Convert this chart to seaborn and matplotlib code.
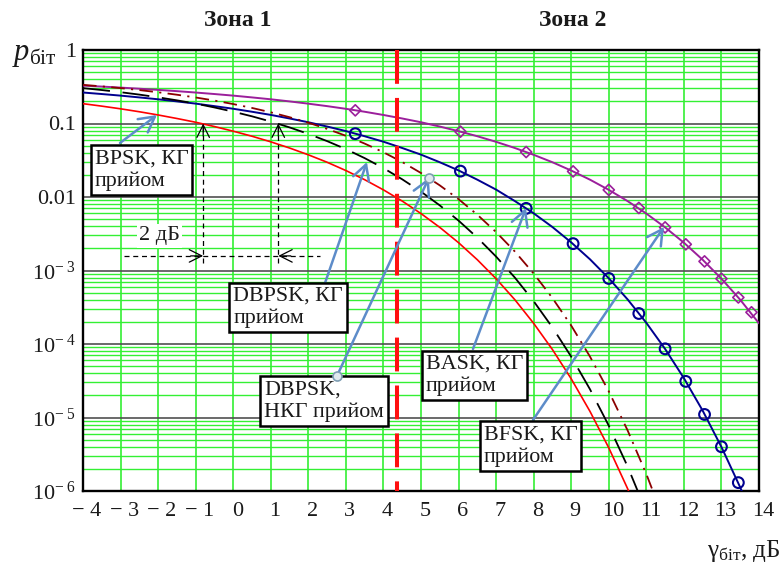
import numpy as np
import pandas as pd
import matplotlib
matplotlib.use("Agg")
import matplotlib.pyplot as plt
import matplotlib.transforms as mtransforms
from matplotlib.ticker import FixedLocator, LogLocator, NullFormatter
import seaborn as sns

# ---------------- data ----------------
# Eb/N0 grid in dB (0.5 dB step)
snr_db = [-4, -3.5, -3, -2.5, -2, -1.5, -1, -0.5, 0, 0.5, 1, 1.5, 2, 2.5, 3, 3.5,
          4, 4.5, 5, 5.5, 6, 6.5, 7, 7.5, 8, 8.5, 9, 9.5, 10, 10.5, 11, 11.5,
          12, 12.5, 13, 13.5, 14]

# BPSK, coherent reception
ber_bpsk = [0.1861, 0.1723, 0.1584, 0.1445, 0.1306, 0.1170, 0.1040, 0.0909,
            0.0786, 0.0671, 0.0563, 0.0464, 0.0375, 0.0297, 0.0229, 0.0172,
            0.0125, 0.0088, 0.00595, 0.00386, 0.00239, 0.0014, 7.73e-4, 4.0e-4,
            1.91e-4, 8.4e-5, 3.36e-5, 1.21e-5, 3.87e-6, 1.08e-6, 2.6e-7]

# DBPSK, coherent reception
ber_dbpsk_coh = [0.3029, 0.2852, 0.2666, 0.2472, 0.2271, 0.2066, 0.1864, 0.1653,
                 0.1448, 0.1252, 0.1063, 0.0885, 0.0722, 0.0576, 0.0448, 0.0338,
                 0.0247, 0.0174, 0.01183, 0.00769, 0.00477, 0.0028, 0.001545,
                 8.0e-4, 3.82e-4, 1.68e-4, 6.72e-5, 2.42e-5, 7.74e-6, 2.16e-6,
                 5.2e-7]

# DBPSK, non-coherent reception
ber_dbpsk_nc = [0.3358, 0.3199, 0.3029, 0.2850, 0.2660, 0.2464, 0.2260, 0.2051,
                0.1839, 0.1628, 0.1420, 0.1218, 0.1025, 0.0845, 0.0680, 0.0533,
                0.0406, 0.0299, 0.0212, 0.0144, 0.00934, 0.00574, 0.00333,
                0.00181, 9.09e-4, 4.21e-4, 1.78e-4, 6.73e-5, 2.27e-5, 6.7e-6,
                1.70e-6, 3.7e-7]

# BASK, coherent reception
ber_bask = [0.2640, 0.2517, 0.2395, 0.2264, 0.2135, 0.1998, 0.1864, 0.1723,
            0.1587, 0.1445, 0.1309, 0.1170, 0.1040, 0.0909, 0.0789, 0.0671,
            0.0565, 0.0464, 0.0377, 0.0297, 0.0230, 0.0172, 0.0126, 0.0088,
            0.0060, 0.0039, 0.00241, 0.00142, 7.83e-4, 4.05e-4, 1.94e-4,
            8.56e-5, 3.43e-5, 1.24e-5, 3.97e-6, 1.12e-6, 2.7e-7]

# BFSK, coherent reception
ber_bfsk = [0.3274, 0.3179, 0.3079, 0.2975, 0.2867, 0.2755, 0.2638, 0.2517,
            0.2395, 0.2264, 0.2135, 0.1998, 0.1861, 0.1723, 0.1584, 0.1445,
            0.1306, 0.1170, 0.1040, 0.0909, 0.0786, 0.0671, 0.0563, 0.0464,
            0.0375, 0.0297, 0.0229, 0.0172, 0.0125, 0.0088, 0.00595, 0.00386,
            0.00239, 0.0014, 7.73e-4, 4.0e-4, 1.91e-4]

# marker positions on the BASK / BFSK curves
mark_bask_db = [3.25, 6.05, 7.8, 9.05, 10.0, 10.8, 11.5, 12.05, 12.55, 13.0, 13.45]
mark_bask_ber = [0.0727, 0.0225, 0.0070, 0.00232, 7.8e-4, 2.6e-4, 8.6e-5,
                 3.1e-5, 1.1e-5, 4.0e-6, 1.3e-6]
mark_bfsk_db = [3.25, 6.05, 7.8, 9.05, 10.0, 10.8, 11.5, 12.05, 12.55, 13.0,
                13.45, 13.8]
mark_bfsk_ber = [0.151, 0.0775, 0.0409, 0.0223, 0.0125, 0.0071, 0.00386,
                 0.00227, 0.00133, 7.73e-4, 4.3e-4, 2.7e-4]

x_ticks = list(range(-4, 15))
x_tick_labels = ["− 4", "− 3", "− 2", "− 1", "0", "1", "2", "3", "4", "5", "6",
                 "7", "8", "9", "10", "11", "12", "13", "14"]
y_ticks = [1e-6, 1e-5, 1e-4, 1e-3, 1e-2, 1e-1, 1]
y_tick_labels = [r"$10^{-\ 6}$", r"$10^{-\ 5}$", r"$10^{-\ 4}$", r"$10^{-\ 3}$",
                 "0.01", "0.1", "1"]

zone_border_db = 4.35

# ---------------- style ----------------
sns.set_theme(style="white")
plt.rcParams["font.family"] = ["Liberation Serif", "DejaVu Serif"]
plt.rcParams["mathtext.fontset"] = "custom"
plt.rcParams["mathtext.rm"] = "Liberation Serif"
plt.rcParams["mathtext.it"] = "Liberation Serif:italic"
plt.rcParams["mathtext.bf"] = "Liberation Serif:bold"

W, H = 782, 568
fig = plt.figure(figsize=(W / 100, H / 100), dpi=100)
ax = fig.add_axes([83 / W, 1 - 491 / H, (759 - 83) / W, (491 - 50) / H])
ax.set_yscale("log")
ax.set_xlim(-4, 14)
ax.set_ylim(1e-6, 1)

# grid
ax.set_axisbelow(True)
ax.xaxis.set_major_locator(FixedLocator(x_ticks))
ax.yaxis.set_major_locator(FixedLocator(y_ticks))
ax.yaxis.set_minor_locator(LogLocator(base=10, subs=np.arange(2, 10)))
ax.yaxis.set_minor_formatter(NullFormatter())
ax.grid(True, which="major", axis="x", color="#22ee22", lw=1.1)
ax.grid(True, which="minor", axis="y", color="#33f033", lw=1.0)
ax.grid(True, which="major", axis="y", color="#505050", lw=1.2)
ax.set_xticklabels(x_tick_labels)
ax.set_yticklabels(y_tick_labels)
ax.tick_params(axis="both", which="both", length=0, labelsize=16,
               labelcolor="#1a1a1a")
ax.tick_params(axis="x", pad=8)
ax.tick_params(axis="y", pad=5)
shift = mtransforms.ScaledTranslation(4 / 100, 0, fig.dpi_scale_trans)
for lbl in ax.get_xticklabels():
    lbl.set_transform(lbl.get_transform() + shift)
for sp in ax.spines.values():
    sp.set_visible(True)
    sp.set_color("black")
    sp.set_linewidth(1.7)

# ---------------- curves ----------------
def draw(xs, ys, color, lw, dashes=None):
    df = pd.DataFrame({"snr": xs[:len(ys)], "ber": ys})
    sns.lineplot(data=df, x="snr", y="ber", ax=ax, color=color, lw=lw,
                 estimator=None, sort=False, zorder=3)
    line = ax.lines[-1]
    if dashes is not None:
        line.set_dashes(dashes)
    return line

draw(snr_db, ber_bfsk, "#9b1f9b", 1.4)
draw(snr_db, ber_bask, "#00008f", 1.4)
draw(snr_db, ber_dbpsk_nc, "#8b0000", 1.3, dashes=(7.5, 3.5, 1.2, 3.5))
draw(snr_db, ber_dbpsk_coh, "black", 1.3, dashes=(15, 7))
draw(snr_db, ber_bpsk, "#ff0000", 1.2)

sns.scatterplot(x=mark_bask_db, y=mark_bask_ber, ax=ax, marker="o", s=60,
                facecolor="none", edgecolor="#00008f", linewidth=1.5, zorder=4)
sns.scatterplot(x=mark_bfsk_db, y=mark_bfsk_ber, ax=ax, marker="D", s=32,
                facecolor="none", edgecolor="#9b1f9b", linewidth=1.2, zorder=4)
ax.set_xlabel("")
ax.set_ylabel("")

# zone border
ax.plot([zone_border_db, zone_border_db], [1, 1e-6], color="#ff1010", lw=2.9,
        dashes=(8.4, 3.5), zorder=5)

# ---------------- "2 дБ" dimension ----------------
dim_kw = dict(color="black", lw=0.9, dashes=(4, 3), zorder=5)
ax.plot([-0.8, -0.8], [1.26e-3, 0.1], **dim_kw)
ax.plot([1.2, 1.2], [1.26e-3, 0.1], **dim_kw)
ax.plot([-2.9, 2.3], [1.58e-3, 1.58e-3], **dim_kw)
head_kw = dict(arrowstyle="->,head_length=0.9,head_width=0.45", color="black",
               lw=0.9, shrinkA=0, shrinkB=0, mutation_scale=10)
for xy, off in [((-0.8, 0.1), (0, -9)), ((1.2, 0.1), (0, -9)),
                ((-0.8, 1.58e-3), (-9, 0)), ((1.2, 1.58e-3), (9, 0))]:
    ax.annotate("", xy=xy, xytext=off, textcoords="offset points",
                arrowprops=head_kw, zorder=5)
ax.text(-1.97, 2.95e-3, "2 дБ", ha="center", va="center", fontsize=16,
        color="#1a1a1a", zorder=6,
        bbox=dict(boxstyle="square,pad=0.1", fc="white", ec="none"))

# ---------------- callouts ----------------
arrow_col = "#5d8cc9"
arr_kw = dict(arrowstyle="->,head_length=0.55,head_width=0.3", color=arrow_col,
              lw=1.8, shrinkA=0, shrinkB=0, mutation_scale=20)
box_kw = dict(boxstyle="square,pad=0.18", fc="white", ec="black", lw=1.8)

callouts = [
    ("BPSK, КГ\nприйом", (-2.44, 0.0233), (-3.015, 0.0543), (-2.03, 0.1305)),
    ("DBPSK, КГ\nприйом", (1.46, 3.14e-4), (2.444, 6.76e-4), (3.56, 0.0299)),
    ("DBPSK,\nНКГ прийом", (2.42, 1.68e-5), (2.763, 3.67e-5), (5.21, 0.0182)),
    ("BASK, КГ\nприйом", (6.42, 3.73e-5), (6.384, 8.55e-5), (7.795, 0.00708)),
    ("BFSK, КГ\nприйом", (7.92, 4.09e-6), (7.982, 9.25e-6), (11.47, 0.00391)),
]
for text, pos, tail, head in callouts:
    ax.annotate("", xy=head, xytext=tail, arrowprops=arr_kw, zorder=6)
    ax.text(pos[0], pos[1], text, ha="center", va="center", multialignment="left",
            fontsize=15.8, linespacing=1.22, color="#1a1a1a", zorder=7,
            bbox=box_kw)

# small circles on the non-coherent DBPSK leader
ax.plot([2.763, 5.21], [3.67e-5, 0.0182], ls="none", marker="o", ms=6.5,
        mfc="#dfe9ee", mec="#7d9db3", mew=1.2, zorder=8)

# ---------------- titles and axis labels ----------------
fig.text(238 / W, 1 - 20 / H, "Зона 1", ha="center", va="center", fontsize=17,
         fontweight="bold", color="#1a1a1a")
fig.text(573 / W, 1 - 20 / H, "Зона 2", ha="center", va="center", fontsize=17,
         fontweight="bold", color="#1a1a1a")
fig.text(12 / W, 1 - 60 / H, r"$p_{\mathrm{біт}}$", ha="left", va="baseline",
         fontsize=22, color="#1a1a1a")
fig.text(780 / W, 1 - 557 / H, r"$\mathrm{γ}_{\mathrm{біт}}$, дБ", ha="right",
         va="baseline", fontsize=18, color="#1a1a1a")

fig.savefig("out.png", dpi=100)
